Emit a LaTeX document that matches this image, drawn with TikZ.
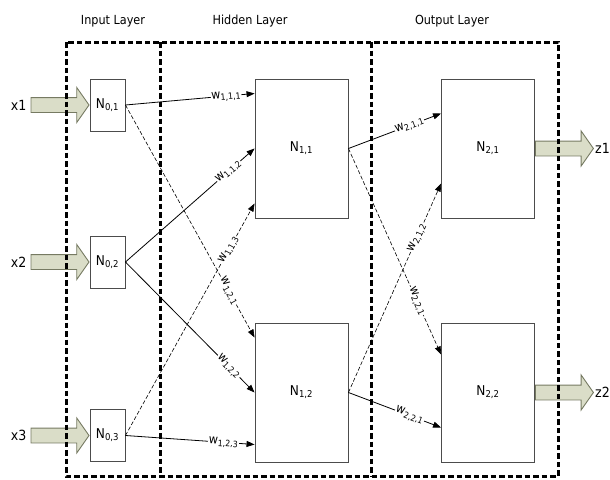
\documentclass[tikz,border=0pt]{standalone}
\usepackage{fontspec}
\setmainfont{DejaVu Sans Condensed}
\usetikzlibrary{arrows.meta,positioning,calc,shapes.arrows}
\definecolor{fatfill}{RGB}{218,221,200}
\definecolor{fatline}{RGB}{118,122,98}

\begin{document}
\begin{tikzpicture}[x=1pt, y=-1pt,
  neuron/.style={draw=black!70, line width=0.9pt, minimum width=35pt, minimum height=52pt, inner sep=0pt, font=\fontsize{13.5}{15}\selectfont},
  bigneuron/.style={neuron, minimum width=93pt, minimum height=139pt},
  layer/.style={draw, line width=3pt, dash pattern=on 5.5pt off 3pt},
  title/.style={font=\fontsize{12.5}{14}\selectfont},
  fat/.style={single arrow, draw=fatline, fill=fatfill, line width=0.9pt, inner xsep=0pt, inner ysep=7pt, minimum height=58pt, minimum width=34pt, single arrow head extend=10pt, single arrow head indent=0pt, single arrow tip angle=110},
  io/.style={font=\fontsize{14}{16}\selectfont, inner sep=1pt},
  arr/.style={-{Triangle[length=8pt,width=6pt]}, line width=0.8pt},
  dep/.style={arr, dash pattern=on 4pt off 2pt, line width=0.6pt},
  wt/.style={sloped, fill=white, inner sep=0.5pt, font=\fontsize{12.5}{13}\selectfont}
]
\useasboundingbox (0,0) rectangle (610,479);

\node[title] (tin) at (113,21) {Input Layer};
\node[title] (thid) at (250,21) {Hidden Layer};
\node[title] (tout) at (452,21) {Output Layer};

\node[neuron] (n01) at (107.5,105) {N\textsubscript{0,1}};
\node[neuron] (n02) at (107.5,262) {N\textsubscript{0,2}};
\node[neuron] (n03) at (107.5,435.5) {N\textsubscript{0,3}};
\node[bigneuron] (h1) at (301.5,148.5) {N\textsubscript{1,1}};
\node[bigneuron] (h2) at (301.5,392.5) {N\textsubscript{1,2}};
\node[bigneuron] (o1) at (488,148.5) {N\textsubscript{2,1}};
\node[bigneuron] (o2) at (488,392.5) {N\textsubscript{2,2}};

% inputs and outputs
\foreach \i in {1,2,3} {
  \node[fat, anchor=tip] (a\i) at (n0\i.west) {};
  \node[io, left=3pt of a\i.tail] (x\i) {x\i};
}
\foreach \i in {1,2} {
  \node[fat, anchor=tail] (b\i) at (o\i.east) {};
  \node[io, right=0pt of b\i.tip] (z\i) {z\i};
}

% layers
\draw[layer] (66,42) rectangle (558,476);
\draw[layer] (160,42) -- (160,476);
\draw[layer] (371,42) -- (371,476);

% weights into the hidden layer
\draw[arr] (n01.east) -- node[wt, pos=0.78] {w\textsubscript{1,1,1}} ($(h1.west)+(0,-55)$);
\draw[arr] (n02.east) -- node[wt, pos=0.8] {w\textsubscript{1,1,2}} (h1.west);
\draw[dep] (n03.east) -- node[wt, pos=0.8] {w\textsubscript{1,1,3}} ($(h1.west)+(0,55)$);
\draw[dep] (n01.east) -- node[wt, pos=0.8] {w\textsubscript{1,2,1}} ($(h2.west)+(0,-55)$);
\draw[arr] (n02.east) -- node[wt, pos=0.8] {w\textsubscript{1,2,2}} (h2.west);
\draw[arr] (n03.east) -- node[wt, pos=0.76] {w\textsubscript{1,2,3}} ($(h2.west)+(0,52)$);

% weights into the output layer
\draw[arr] (h1.east) -- node[wt, pos=0.66] {w\textsubscript{2,1,1}} ($(o1.west)+(0,-35)$);
\draw[dep] (h2.east) -- node[wt, pos=0.74] {w\textsubscript{2,1,2}} ($(o1.west)+(0,35)$);
\draw[dep] (h1.east) -- node[wt, pos=0.74] {w\textsubscript{2,2,1}} ($(o2.west)+(0,-38)$);
\draw[arr] (h2.east) -- node[wt, pos=0.66] {w\textsubscript{2,2,1}} ($(o2.west)+(0,35)$);

\end{tikzpicture}
\end{document}
